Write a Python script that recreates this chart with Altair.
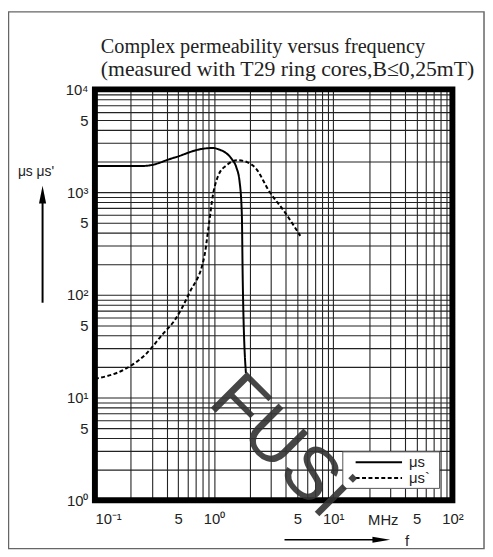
import altair as alt
import pandas as pd

# ---- data (frequency in MHz, permeability) ----
solid_f = [0.1, 0.26, 0.46, 0.80, 0.98, 1.09, 1.25, 1.42, 1.54, 1.64, 1.71, 1.74, 1.85]
solid_mu = [1800, 1800, 2160, 2640, 2690, 2610, 2420, 2070, 1735, 1246, 603, 138, 17.3]

dash_f = [0.1, 0.18, 0.267, 0.368, 0.474, 0.622, 0.83, 0.90, 0.98, 1.09, 1.28, 1.57, 1.89, 2.23, 2.91, 3.88, 5.29]
dash_mu = [15.2, 19.0, 26.4, 41, 58, 105, 239, 462, 946, 1468, 1833, 2046, 1960, 1715, 1012, 650, 375]

series_names = ["μs", "μs`"]

x_label_values = [0.1, 0.5, 1, 5, 10, 50, 100]
x_label_texts = ["10⁻¹", "5", "10⁰", "5", "10¹", "5", "10²"]
y_label_values = [1, 5, 10, 50, 100, 500, 1000, 5000, 10000]
y_label_texts = ["10⁰", "5", "10¹", "5", "10²", "5", "10³", "5", "10⁴"]

title_lines = ["Complex permeability versus frequency",
               "(measured with T29 ring cores,B≤0,25mT)"]
y_title = "μs  μs'"
x_title = "f"
unit_text = "MHz"
watermark = "FUSi"

# ---- build tables ----
df = pd.DataFrame({
    "f": solid_f + dash_f,
    "mu": solid_mu + dash_mu,
    "series": [series_names[0]] * len(solid_f) + [series_names[1]] * len(dash_f),
})

x_grid = [round(m * 10 ** e, 6) for e in (-1, 0, 1) for m in range(1, 10)] + [100]
y_grid = [round(m * 10 ** e, 6) for e in (0, 1, 2, 3) for m in range(1, 10)] + [10000]


def label_expr(vals, texts):
    expr = "''"
    for v, t in reversed(list(zip(vals, texts))):
        expr = f"abs(log(datum.value) - log({v})) < 1e-6 ? '{t}' : ({expr})"
    return expr


W, H = 362, 416
SANS = "Liberation Sans"
SERIF = "Liberation Serif"
DASH = [4, 2.5]

x_enc = alt.X("f:Q", scale=alt.Scale(type="log", domain=[0.1, 100], nice=False),
              axis=alt.Axis(values=x_grid, labelExpr=label_expr(x_label_values, x_label_texts),
                            grid=True, gridColor="#222", gridWidth=1.1, ticks=False, domain=False,
                            labelFont=SANS, labelFontSize=15, labelColor="#222", labelPadding=12,
                            labelOverlap=False, title=None,
                            labelAlign={"condition": {"test": "datum.value < 0.11", "value": "left"},
                                        "value": "center"}))
y_enc = alt.Y("mu:Q", scale=alt.Scale(type="log", domain=[1, 10000], nice=False),
              axis=alt.Axis(values=y_grid, labelExpr=label_expr(y_label_values, y_label_texts),
                            grid=True, gridColor="#222", gridWidth=1.1, ticks=False, domain=False,
                            labelFont=SANS, labelFontSize=15, labelColor="#222", labelPadding=7,
                            labelOverlap=False, title=None))

lines = alt.Chart(df).mark_line(color="black", strokeWidth=2, interpolate="monotone").encode(
    x=x_enc, y=y_enc,
    strokeDash=alt.StrokeDash("series:N",
                              scale=alt.Scale(domain=series_names, range=[[1, 0], DASH]),
                              legend=None),
    detail="series:N",
)

one = pd.DataFrame({"k": [0]})


def deco_text(txt, x, y, size=15, font=SANS, align="center", baseline="middle", **kw):
    return alt.Chart(one).mark_text(align=align, baseline=baseline, font=font, fontSize=size,
                                    color=kw.pop("color", "#222"), **kw).encode(
        x=alt.value(x), y=alt.value(y), text=alt.value(txt))


border = alt.Chart(one).mark_rect(filled=False, stroke="black", strokeWidth=6).encode(
    x=alt.value(0), x2=alt.value(W), y=alt.value(0), y2=alt.value(H))

frame = alt.Chart(one).mark_rect(filled=False, stroke="#666", strokeWidth=1.5).encode(
    x=alt.value(-87.5), x2=alt.value(394), y=alt.value(-78.5), y2=alt.value(465))

# legend (drawn by hand so that it keeps the reference's compact box)
leg_box = alt.Chart(one).mark_rect(fill="white", stroke="#555", strokeWidth=1).encode(
    x=alt.value(251), x2=alt.value(349), y=alt.value(367), y2=alt.value(404))
leg_l1 = alt.Chart(one).mark_rule(color="black", strokeWidth=2).encode(
    x=alt.value(264), x2=alt.value(311), y=alt.value(377.5))
leg_l2 = alt.Chart(one).mark_rule(color="black", strokeWidth=2, strokeDash=DASH).encode(
    x=alt.value(264), x2=alt.value(311), y=alt.value(393.5))
leg_t1 = deco_text(series_names[0], 318, 377.5, align="left")
leg_t2 = deco_text(series_names[1], 318, 393.5, align="left")

t1 = deco_text(title_lines[0], 6, -37, size=20.5, font=SERIF, align="left", baseline="alphabetic")
t2 = deco_text(title_lines[1], 6, -14, size=22, font=SERIF, align="left", baseline="alphabetic")

ytitle = deco_text(y_title, -78, 84, size=14, align="left")
yarrow = alt.Chart(one).mark_rule(color="black", strokeWidth=2).encode(
    x=alt.value(-53), y=alt.value(216), y2=alt.value(112))
yhead = alt.Chart(one).mark_point(shape="M0,-1L0.4,1L-0.4,1Z", filled=True, color="black",
                                  size=324, opacity=1).encode(x=alt.value(-53), y=alt.value(106.5))

xarrow = alt.Chart(one).mark_rule(color="black", strokeWidth=1.5).encode(
    x=alt.value(192), x2=alt.value(284), y=alt.value(456))
xhead = alt.Chart(one).mark_point(shape="M1,0L-1,0.35L-1,-0.35Z", filled=True, color="black",
                                  size=324, opacity=1).encode(x=alt.value(290), y=alt.value(456))
ftext = deco_text(x_title, 316, 457)
mhz = deco_text(unit_text, 292, 436)

wm = deco_text(watermark, 113, 318, size=75, align="left", baseline="alphabetic",
               angle=45, color="#333", opacity=0.9)

chart = alt.layer(lines, border, leg_box, leg_l1, leg_l2, leg_t1, leg_t2, wm, frame, t1, t2,
                  ytitle, yarrow, yhead, xarrow, xhead, ftext, mhz).properties(
    width=W, height=H,
    autosize=alt.AutoSizeParams(type="none"),
    padding={"left": 88, "top": 79, "right": 33, "bottom": 50},
    background="white",
).configure_view(stroke=None)

chart.save("out.html", embed_options={"renderer": "svg", "actions": False})
